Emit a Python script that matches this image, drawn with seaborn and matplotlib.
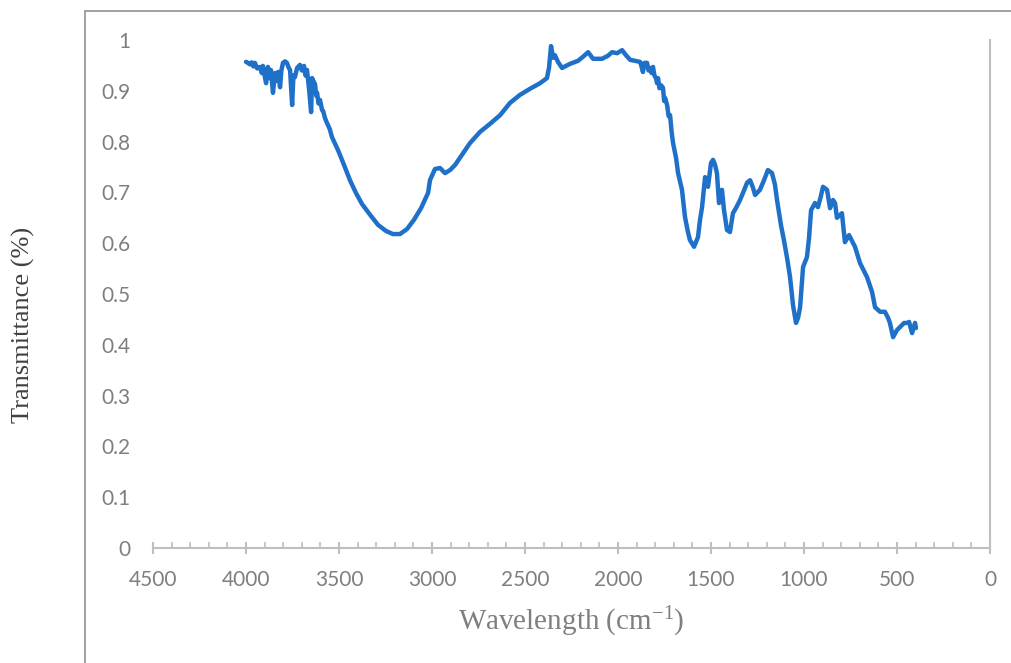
import numpy as np
import pandas as pd
import matplotlib
matplotlib.use('Agg')
import matplotlib.pyplot as plt
from matplotlib.lines import Line2D
from matplotlib.ticker import MultipleLocator, FuncFormatter
import seaborn as sns

# FTIR spectrum
wavenumber = [
    4000, 3990, 3978, 3970, 3960, 3952, 3940, 3925, 3915, 3909, 3900, 3892,
    3882, 3875, 3866, 3855, 3844, 3836, 3828, 3817, 3810, 3801, 3790, 3780,
    3770, 3763, 3752, 3745, 3737, 3725, 3710, 3700, 3688, 3680, 3672, 3660,
    3650, 3645, 3640, 3629, 3622, 3618, 3610, 3602, 3591, 3585, 3575, 3565,
    3550, 3538, 3505, 3473, 3441, 3409, 3376, 3333, 3290,
    3247, 3210, 3172, 3134, 3097, 3059, 3021, 3011, 2984, 2957, 2930, 2903,
    2876, 2839, 2796, 2742, 2688, 2634, 2581, 2527, 2473, 2419, 2382, 2371,
    2360, 2349, 2339, 2323, 2301, 2258, 2215, 2188, 2161, 2134, 2086, 2054,
    2032, 2005, 1978, 1957, 1935, 1882, 1875, 1866, 1858, 1844, 1836, 1828,
    1820, 1812, 1804, 1796, 1790, 1785, 1777, 1769, 1758, 1752, 1747, 1736,
    1728, 1720, 1712, 1704, 1688, 1677, 1656, 1640, 1624, 1613,
    1591, 1570, 1559, 1548, 1532, 1516, 1500, 1489, 1478, 1468, 1457, 1441,
    1430, 1414, 1398, 1382, 1366, 1344, 1328, 1306, 1290, 1274, 1263, 1237,
    1215, 1194, 1172, 1156, 1145, 1124, 1108, 1091, 1075, 1059, 1043, 1032,
    1021, 1005, 984, 973, 962, 941, 925, 909, 898, 876, 860, 844,
    833, 823, 796, 780, 758, 726, 699, 661, 634, 618, 591, 565,
    548, 538, 521, 500, 484, 462, 446, 435, 419, 403, 398,
]
transmittance = [
    0.957, 0.955, 0.952, 0.956, 0.948, 0.955, 0.944, 0.947, 0.935, 0.949, 0.930, 0.915,
    0.947, 0.925, 0.941, 0.896, 0.935, 0.920, 0.937, 0.907, 0.940, 0.955, 0.958, 0.955,
    0.945, 0.941, 0.872, 0.930, 0.927, 0.945, 0.951, 0.940, 0.949, 0.930, 0.941, 0.900,
    0.858, 0.925, 0.921, 0.913, 0.890, 0.896, 0.875, 0.882, 0.862, 0.860, 0.846, 0.837,
    0.825, 0.809, 0.783, 0.754, 0.724, 0.699, 0.677, 0.656, 0.636,
    0.624, 0.618, 0.618, 0.628, 0.646, 0.669, 0.699, 0.724, 0.746, 0.748, 0.738, 0.744,
    0.754, 0.774, 0.797, 0.819, 0.835, 0.852, 0.876, 0.892, 0.904, 0.915, 0.925, 0.945,
    0.988, 0.965, 0.970, 0.957, 0.945, 0.953, 0.959, 0.967, 0.976, 0.963, 0.963, 0.969,
    0.976, 0.974, 0.980, 0.970, 0.961, 0.957, 0.950, 0.937, 0.955, 0.955, 0.940, 0.945,
    0.935, 0.947, 0.930, 0.925, 0.915, 0.925, 0.905, 0.911, 0.906, 0.880, 0.886, 0.872,
    0.850, 0.852, 0.820, 0.797, 0.768, 0.738, 0.705, 0.652, 0.622, 0.606,
    0.593, 0.612, 0.646, 0.671, 0.730, 0.711, 0.758, 0.764, 0.754, 0.738, 0.679, 0.705,
    0.665, 0.626, 0.622, 0.659, 0.669, 0.685, 0.699, 0.719, 0.724, 0.709, 0.695, 0.705,
    0.724, 0.744, 0.738, 0.715, 0.685, 0.636, 0.606, 0.571, 0.533, 0.478, 0.443, 0.453,
    0.474, 0.553, 0.573, 0.610, 0.665, 0.679, 0.671, 0.693, 0.711, 0.705, 0.669, 0.685,
    0.679, 0.650, 0.659, 0.602, 0.616, 0.593, 0.561, 0.533, 0.504, 0.474, 0.465, 0.465,
    0.453, 0.443, 0.415, 0.429, 0.435, 0.443, 0.443, 0.445, 0.423, 0.443, 0.433,
]

df = pd.DataFrame({'wavenumber': wavenumber, 'transmittance': transmittance})

sns.set_theme(style='white')
plt.rcParams['font.family'] = ['Lato', 'DejaVu Sans']
plt.rcParams['mathtext.fontset'] = 'custom'
plt.rcParams['mathtext.rm'] = 'Liberation Serif'
plt.rcParams['mathtext.default'] = 'regular'

text_grey = '#7f7f7f'
axis_grey = '#bfbfbf'

fig = plt.figure(figsize=(10.12, 6.63), dpi=100)
ax = fig.add_axes([153 / 1012, 1 - 548 / 663, (990 - 153) / 1012, (548 - 40) / 663])

sns.lineplot(data=df, x='wavenumber', y='transmittance', ax=ax, sort=False,
             color='#1f70c8', linewidth=3.2)

ax.set_xlim(4500, 0)
ax.set_ylim(0, 1)
ax.xaxis.set_major_locator(MultipleLocator(500))
ax.xaxis.set_minor_locator(MultipleLocator(100))
ax.yaxis.set_major_locator(MultipleLocator(0.1))
ax.yaxis.set_major_formatter(FuncFormatter(lambda v, p: f'{v:g}'))

for side in ['top', 'left']:
    ax.spines[side].set_visible(False)
for side in ['bottom', 'right']:
    ax.spines[side].set_color(axis_grey)
    ax.spines[side].set_linewidth(1.5)

ax.tick_params(axis='x', which='major', direction='inout', length=9, width=1.5,
               color=axis_grey, pad=11, labelsize=15, labelcolor=text_grey, bottom=True)
ax.tick_params(axis='x', which='minor', direction='in', length=4, width=1.2,
               color=axis_grey, bottom=True)
ax.tick_params(axis='y', length=0, pad=16, labelsize=15, labelcolor=text_grey)

ax.set_xlabel('')
ax.set_ylabel('')
fig.text(571 / 1012, 1 - 622 / 663, 'Wavelength (cm$^{-1}$)', ha='center', va='center',
         family='Liberation Serif', fontsize=21, color=text_grey)
fig.text(23 / 1012, 1 - 325 / 663, 'Transmittance (%)', ha='center', va='center',
         rotation=90, family='Liberation Serif', fontsize=19, color='#404040')

# chart area border (cropped at right and bottom)
bx = 85.5 / 1012
by = 1 - 10.5 / 663
fig.add_artist(Line2D([bx, bx], [0, by], transform=fig.transFigure, color='#999999', lw=1.3))
fig.add_artist(Line2D([bx, 1], [by, by], transform=fig.transFigure, color='#999999', lw=1.3))

fig.savefig('out.png', dpi=100)
